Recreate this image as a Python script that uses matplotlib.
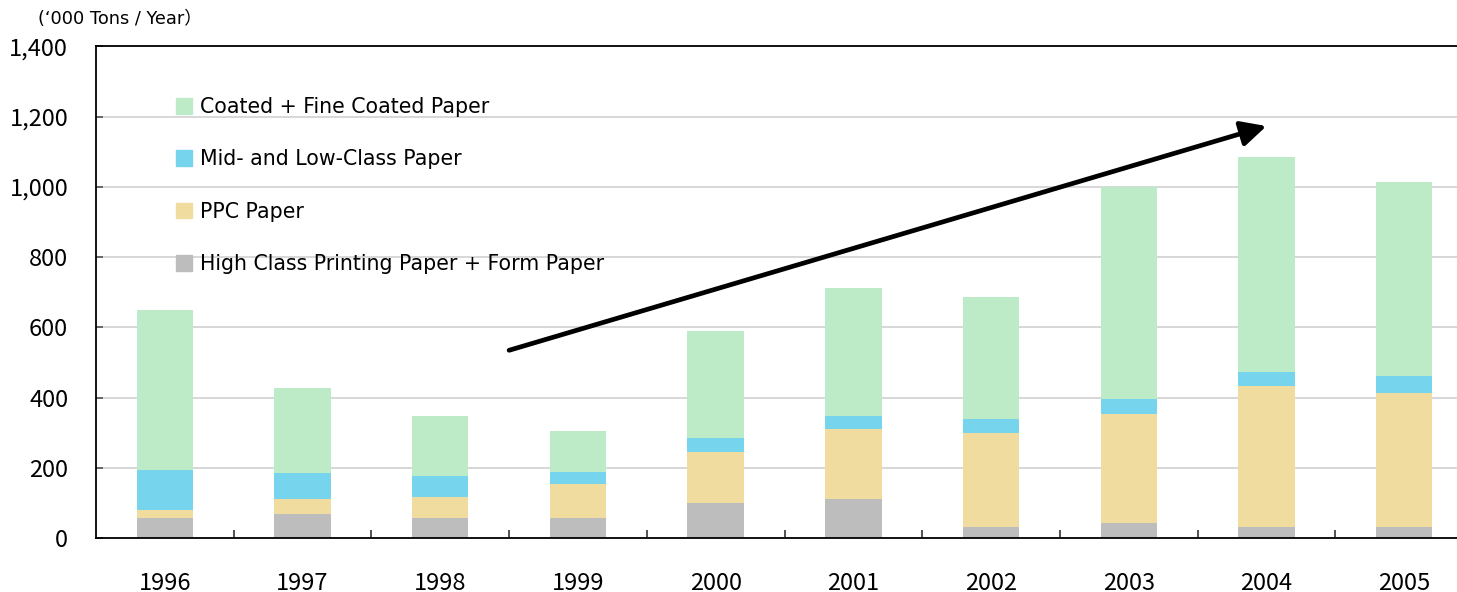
import matplotlib
matplotlib.use("Agg")
import matplotlib.pyplot as plt
from matplotlib.patches import Patch
import numpy as np

plt.rcParams['font.family'] = ['Noto Sans CJK JP', 'DejaVu Sans']

years = ['1996', '1997', '1998', '1999', '2000', '2001', '2002', '2003', '2004', '2005']
high_class = [58, 70, 58, 58, 101, 113, 33, 44, 33, 33]
ppc = [23, 43, 60, 97, 145, 199, 267, 310, 401, 381]
mid_low = [114, 74, 60, 34, 40, 37, 40, 42, 39, 48]
coated = [456, 242, 171, 117, 305, 364, 348, 604, 612, 551]

series_names = ['High Class Printing Paper + Form Paper', 'PPC Paper',
                'Mid- and Low-Class Paper', 'Coated + Fine Coated Paper']
series_colors = ['#bdbdbd', '#f0dc9e', '#76d4ec', '#beebc7']

y_ticks = [0, 200, 400, 600, 800, 1000, 1200, 1400]
y_tick_labels = ['0', '200', '400', '600', '800', '1,000', '1,200', '1,400']

# trend arrow (category position, value)
trend_start = (2.5, 535)
trend_end = (8.0, 1173)

fig = plt.figure(figsize=(14.57, 5.92), dpi=100)
ax = fig.add_axes([96 / 1457, 53.7 / 592, 1377 / 1457, 492 / 592])

x = np.arange(len(years))
bottom = np.zeros(len(years))
for vals, name, col in zip([high_class, ppc, mid_low, coated], series_names, series_colors):
    ax.bar(x, vals, width=0.41, bottom=bottom, color=col, label=name, zorder=2)
    bottom += np.array(vals)

ax.set_xlim(-0.5, len(years) - 0.5)
ax.set_ylim(0, 1400)
ax.set_yticks(y_ticks)
ax.set_yticklabels(y_tick_labels)
ax.yaxis.grid(True, color='#d4d4d4', lw=1.3, zorder=0)
ax.set_axisbelow(True)

# boundaries get the tick marks, centres get the year labels
ax.set_xticks(np.arange(len(years) - 1) + 0.5)
ax.set_xticklabels([])
ax.set_xticks(x, minor=True)
ax.set_xticklabels(years, minor=True)
ax.tick_params(axis='x', which='major', direction='in', length=6, width=1.2, color='#333333')
ax.tick_params(axis='x', which='minor', length=0, pad=24, labelsize=17)
ax.tick_params(axis='y', direction='in', length=5, width=1.2, color='#555555', pad=20, labelsize=17)

for side in ['left', 'bottom', 'top']:
    ax.spines[side].set_color('black')
    ax.spines[side].set_linewidth(1.3)
ax.spines['right'].set_visible(False)

handles = [Patch(color=c) for c in series_colors][::-1]
ax.legend(handles, series_names[::-1], loc='upper left', bbox_to_anchor=(176 / 1457, 1 - 97 / 592),
          bbox_transform=fig.transFigure, frameon=False,
          prop={'family': 'DejaVu Sans', 'size': 14.8},
          labelspacing=1.57, handlelength=0.8, handleheight=0.8, handletextpad=0.35,
          borderpad=0, borderaxespad=0)

ax.annotate('', xy=trend_end, xytext=trend_start,
            arrowprops=dict(arrowstyle='-|>', lw=3.4, color='black', mutation_scale=38,
                            shrinkA=0, shrinkB=0), zorder=5)

fig.text(38 / 1457, 1 - 19 / 592, '(‘000 Tons / Year）', fontsize=12.8, va='center', ha='left',
         family=['DejaVu Sans', 'Noto Sans CJK JP'])

fig.savefig('out.png', dpi=100)
